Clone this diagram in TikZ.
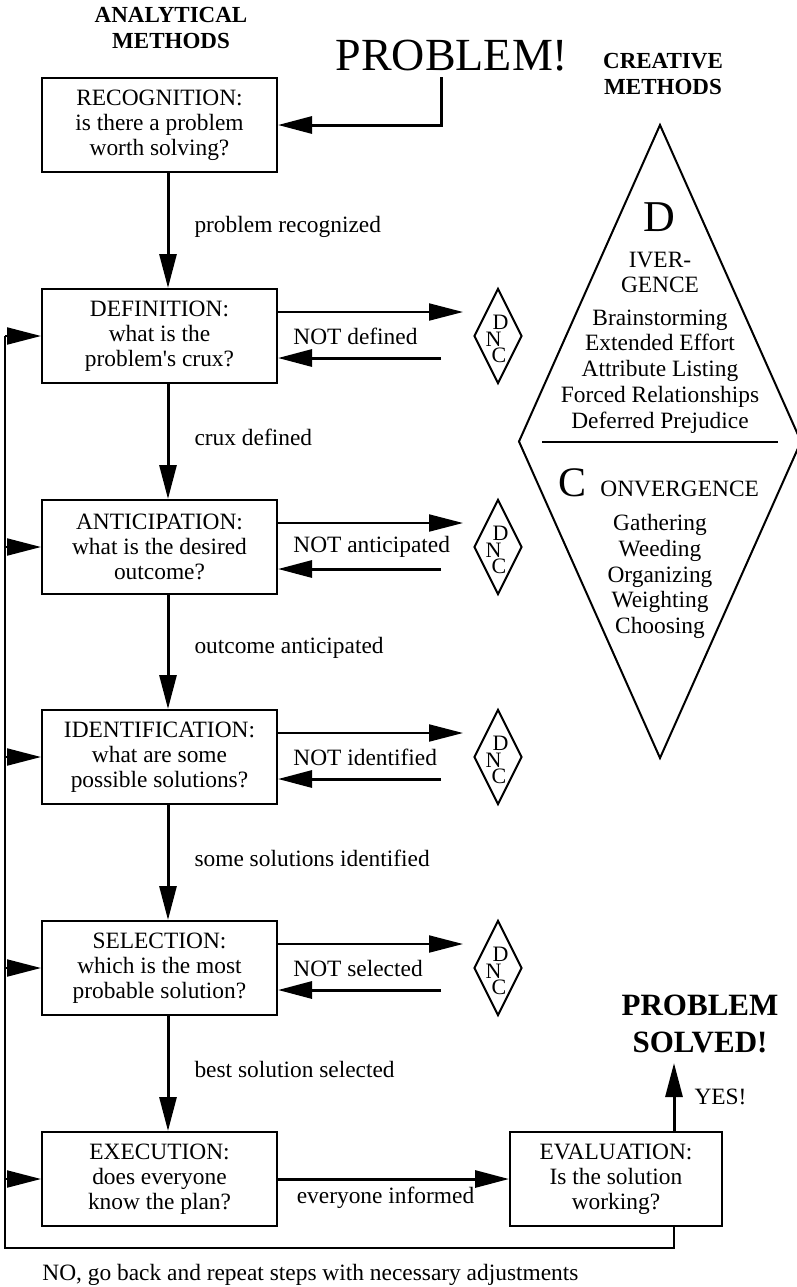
\documentclass[tikz,border=0pt]{standalone}
\usepackage{fontspec}
\setmainfont{Liberation Serif}[Ligatures=TeXOff]
\usetikzlibrary{arrows.meta,shapes.geometric,positioning}
\tikzset{stage/.style={draw, line width=1pt, minimum width=117.5pt, minimum height=47pt, inner sep=0pt, align=center},
  dnc/.style={draw, diamond, line width=1pt, minimum width=24pt, minimum height=47.5pt, inner sep=0pt},
  dnctext/.style={inner sep=0pt, align=left, font=\fontsize{11}{8.4}\selectfont},
  flow/.style={line width=1.5pt, -{Triangle[length=17pt,width=8.5pt]}},
  side/.style={line width=1pt, -{Triangle[length=17pt,width=8.5pt]}},
  note/.style={inner sep=0pt},
  head/.style={inner sep=0pt, align=center, font=\fontsize{11.5}{13}\selectfont\bfseries}}

\begin{document}
\begin{tikzpicture}[x=0.5pt, y=-0.5pt, font=\fontsize{11.7}{12.6}\selectfont, line join=miter]
  \useasboundingbox (0,0) rectangle (797,1287);
  % headings
  \node[head] (anl) at (171,28) {ANALYTICAL\\METHODS};
  \node[head] (crt) at (663,74) {CREATIVE\\METHODS};
  \node[note, anchor=base, font=\fontsize{23}{26}\selectfont] (prob) at (452,70) {PROBLEM!};
  \coordinate (pin) at (441,77);

  % analytical steps
  \node[stage] (rec) at (159.5,125) {RECOGNITION:\\is there a problem\\worth solving?};
  \node[stage] (def) at (159.5,336) {DEFINITION:\\what is the\\problem's crux?};
  \node[stage] (ant) at (159.5,547) {ANTICIPATION:\\what is the desired\\outcome?};
  \node[stage] (idf) at (159.5,757) {IDENTIFICATION:\\what are some\\possible solutions?};
  \node[stage] (sel) at (159.5,968) {SELECTION:\\which is the most\\probable solution?};
  \node[stage] (exe) at (159.5,1179) {EXECUTION:\\does everyone\\know the plan?};
  \node[stage, minimum width=106pt] (evl) at (616,1179) {EVALUATION:\\Is the solution\\working?};

  \draw[flow] (pin) |- (rec);
  \draw[flow] ([xshift=4.25pt]rec.south) -- ([xshift=4.25pt]def.north) node[note, midway, right=12.5pt, yshift=2pt] {problem recognized};
  \draw[flow] ([xshift=4.25pt]def.south) -- ([xshift=4.25pt]ant.north) node[note, midway, right=12.5pt, yshift=2pt] {crux defined};
  \draw[flow] ([xshift=4.25pt]ant.south) -- ([xshift=4.25pt]idf.north) node[note, midway, right=12.5pt, yshift=2pt] {outcome anticipated};
  \draw[flow] ([xshift=4.25pt]idf.south) -- ([xshift=4.25pt]sel.north) node[note, midway, right=12.5pt, yshift=2pt] {some solutions identified};
  \draw[flow] ([xshift=4.25pt]sel.south) -- ([xshift=4.25pt]exe.north) node[note, midway, right=12.5pt, yshift=2pt] {best solution selected};
  \draw[flow] (exe) -- (evl) node[note, midway, below=3.5pt, xshift=-4pt] {everyone informed};

  % did not converge
  \node[dnc, right=97.5pt of def] (dnc1) {};
  \node[dnc, right=97.5pt of ant] (dnc2) {};
  \node[dnc, right=97.5pt of idf] (dnc3) {};
  \node[dnc, right=97.5pt of sel] (dnc4) {};
  \node[dnctext, xshift=-0.5pt, yshift=-1.5pt] (dnc1t) at (dnc1) {\hspace*{3.5pt}D\\N\\\hspace*{3pt}C};
  \node[dnctext, xshift=-0.5pt, yshift=-1.5pt] (dnc2t) at (dnc2) {\hspace*{3.5pt}D\\N\\\hspace*{3pt}C};
  \node[dnctext, xshift=-0.5pt, yshift=-1.5pt] (dnc3t) at (dnc3) {\hspace*{3.5pt}D\\N\\\hspace*{3pt}C};
  \node[dnctext, xshift=-0.5pt, yshift=-1.5pt] (dnc4t) at (dnc4) {\hspace*{3.5pt}D\\N\\\hspace*{3pt}C};

  \draw[side] ([yshift=12pt]def.east) -- ([xshift=-5pt,yshift=12pt]dnc1.west);
  \draw[flow] ([xshift=-16pt,yshift=-11pt]dnc1.west) -- ([yshift=-11pt]def.east);
  \draw[side] ([yshift=12pt]ant.east) -- ([xshift=-5pt,yshift=12pt]dnc2.west);
  \draw[flow] ([xshift=-16pt,yshift=-11pt]dnc2.west) -- ([yshift=-11pt]ant.east);
  \draw[side] ([yshift=12pt]idf.east) -- ([xshift=-5pt,yshift=12pt]dnc3.west);
  \draw[flow] ([xshift=-16pt,yshift=-11pt]dnc3.west) -- ([yshift=-11pt]idf.east);
  \draw[side] ([yshift=12pt]sel.east) -- ([xshift=-5pt,yshift=12pt]dnc4.west);
  \draw[flow] ([xshift=-16pt,yshift=-11pt]dnc4.west) -- ([yshift=-11pt]sel.east);
  \node[note, right=7.5pt of def.east] (nodef) {NOT defined};
  \node[note, right=7.5pt of ant.east] (noant) {NOT anticipated};
  \node[note, right=7.5pt of idf.east] (noidf) {NOT identified};
  \node[note, right=7.5pt of sel.east] (nosel) {NOT selected};

  % go back
  \coordinate (back) at (5,1248);
  \draw[line width=1.2pt] ([xshift=29pt]evl.south) |- (back) -- (back |- def.west);
  \draw[side] (back |- def.west) -- (def.west);
  \draw[side] (back |- ant.west) -- (ant.west);
  \draw[side] (back |- idf.west) -- (idf.west);
  \draw[side] (back |- sel.west) -- (sel.west);
  \draw[side] (back |- exe.west) -- (exe.west);
  \node[note, anchor=west] (retry) at (42,1275) {NO, go back and repeat steps with necessary adjustments};

  % solved
  \node[head, font=\fontsize{15.5}{18.5}\selectfont\bfseries] (solved) at (700,1024) {PROBLEM\\SOLVED!};
  \coordinate (sin) at (674,1063);
  \draw[flow] ([xshift=29pt]evl.north) -- (sin) node[note, midway, right=9.5pt] {YES!};

  % creative methods
  \draw[line width=1pt] (660,125) -- (801,441.5) -- (660,758) -- (519,441.5) -- cycle;
  \draw[line width=1.2pt] (542,442) -- (778,442);
  \node[note, font=\fontsize{22}{22}\selectfont] (bigd) at (659,217) {D};
  \node[note, align=center] (diver) at (660,272.5) {IVER-\\GENCE};
  \node[note, align=center, font=\fontsize{11.7}{12.9}\selectfont] (dlist) at (660,371.5) {Brainstorming\\Extended Effort\\Attribute Listing\\Forced Relationships\\Deferred Prejudice};
  \node[note, anchor=base west, font=\fontsize{21}{21}\selectfont] (bigc) at (558,496) {C};
  \node[note, anchor=base west] (conv) at (600,496) {ONVERGENCE};
  \node[note, align=center, font=\fontsize{11.7}{12.9}\selectfont] (clist) at (660,576.5) {Gathering\\Weeding\\Organizing\\Weighting\\Choosing};
\end{tikzpicture}
\end{document}
